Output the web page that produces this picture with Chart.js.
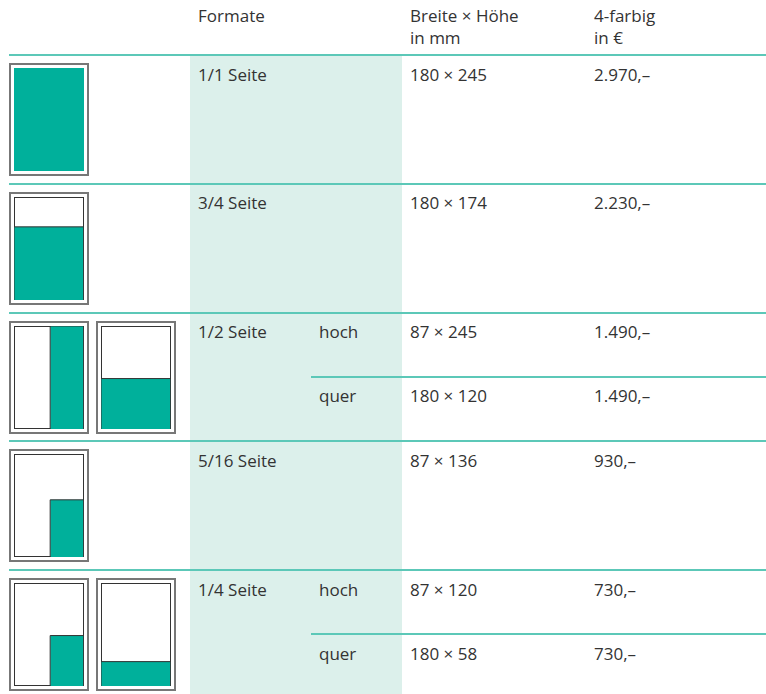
<!DOCTYPE html>
<html>
<head>
<meta charset="utf-8">
<script src="https://cdn.jsdelivr.net/npm/chart.js@4.4.1/dist/chart.umd.min.js"></script>
<style>
    html, body { margin: 0; padding: 0; background: #fff; }
    #sheet {
        position: relative; width: 766px; height: 694px; overflow: hidden;
        font-family: "Open Sans", sans-serif; font-size: 17px; line-height: 22px; color: #333;
    }
    .band { position: absolute; left: 190px; width: 212px; top: 56px; bottom: 0; background: #dcf0eb; }
    .rule { position: absolute; right: 0; height: 2px; background: #5cc8b8; }
    .txt { position: absolute; white-space: pre; }
    .page {
        position: absolute; box-sizing: border-box; width: 80px; height: 113px;
        border: 2px solid #777; padding: 3px; background: #fff;
    }
    .page canvas { display: block; }
</style>
</head>
<body>
<div id="sheet"></div>
<script>
// ad formats and the variants of each one
const formatLabels = ['1/1 Seite', '3/4 Seite', '1/2 Seite', '5/16 Seite', '1/4 Seite'];
const variantFormat = [0, 1, 2, 2, 3, 4, 4];
const variantLabels = ['', '', 'hoch', 'quer', '', 'hoch', 'quer'];
const widthMm = [180, 180, 87, 180, 87, 87, 180];
const heightMm = [245, 174, 245, 120, 136, 120, 58];
const pricesEur = [2970, 2230, 1490, 1490, 930, 730, 730];
const headerLabels = ['Formate', 'Breite × Höhe\nin mm', '4-farbig\nin €'];

const pageWidthMm = 180;
const pageHeightMm = 245;

const TEAL = '#00b09b';
const colX = { format: 198, orient: 319, size: 410, price: 594 };
const firstRowTop = 55;
const rowHeight = 128.75;
const subRowHeight = 64.4;
const textOffset = 8.5;

const sheet = document.getElementById('sheet');

function addText(text, x, y) {
    const el = document.createElement('div');
    el.className = 'txt';
    el.style.left = x + 'px';
    el.style.top = y + 'px';
    el.textContent = text;
    sheet.appendChild(el);
}

function addRule(x, y) {
    const el = document.createElement('div');
    el.className = 'rule';
    el.style.left = x + 'px';
    el.style.top = (y - 1) + 'px';
    sheet.appendChild(el);
}

function formatPrice(v) {
    return String(v).replace(/\B(?=(\d{3})+(?!\d))/g, '.') + ',–';
}

// thin dark outline of the page, drawn under the ad area
const pageOutline = {
    id: 'pageOutline',
    beforeDatasetsDraw(chart) {
        const { ctx, chartArea: a } = chart;
        ctx.save();
        ctx.strokeStyle = '#333';
        ctx.lineWidth = 1;
        ctx.strokeRect(a.left + 0.5, a.top + 0.5, a.right - a.left - 1, a.bottom - a.top - 1);
        ctx.restore();
    }
};

function drawPage(v, left, top) {
    const box = document.createElement('div');
    box.className = 'page';
    box.style.left = left + 'px';
    box.style.top = top + 'px';
    const canvas = document.createElement('canvas');
    canvas.width = 70;
    canvas.height = 103;
    box.appendChild(canvas);
    sheet.appendChild(box);

    const w = widthMm[v];
    const h = heightMm[v];
    const full = w === pageWidthMm && h === pageHeightMm;

    // ad sits in the bottom right corner of the page
    new Chart(canvas, {
        type: 'line',
        data: {
            datasets: [{
                data: [
                    { x: pageWidthMm - w, y: 0 },
                    { x: pageWidthMm - w, y: h },
                    { x: pageWidthMm, y: h },
                    { x: pageWidthMm, y: 0 }
                ],
                fill: 'origin',
                backgroundColor: TEAL,
                borderColor: '#333',
                borderWidth: full ? 0 : 1,
                pointRadius: 0,
                tension: 0
            }]
        },
        options: {
            responsive: false,
            animation: false,
            devicePixelRatio: 1,
            layout: { padding: 0 },
            scales: {
                x: { type: 'linear', min: 0, max: pageWidthMm, display: false },
                y: { type: 'linear', min: 0, max: pageHeightMm, display: false }
            },
            plugins: {
                legend: { display: false },
                tooltip: { enabled: false }
            }
        },
        plugins: [pageOutline]
    });
}

// background band behind the format columns
const band = document.createElement('div');
band.className = 'band';
sheet.appendChild(band);

// header
addText(headerLabels[0], colX.format, 5);
addText(headerLabels[1], colX.size, 5);
addText(headerLabels[2], colX.price, 5);
addRule(9, firstRowTop);

formatLabels.forEach((label, i) => {
    const top = firstRowTop + i * rowHeight;
    if (i > 0) addRule(9, top);
    addText(label, colX.format, top + textOffset);

    const variants = [];
    variantFormat.forEach((f, v) => { if (f === i) variants.push(v); });

    variants.forEach((v, k) => {
        const y = top + k * subRowHeight;
        if (k > 0) addRule(311, y);
        if (variantLabels[v]) addText(variantLabels[v], colX.orient, y + textOffset);
        addText(widthMm[v] + ' × ' + heightMm[v], colX.size, y + textOffset);
        addText(formatPrice(pricesEur[v]), colX.price, y + textOffset);
        drawPage(v, 9 + k * 87, top + 8);
    });
});
</script>
</body>
</html>
